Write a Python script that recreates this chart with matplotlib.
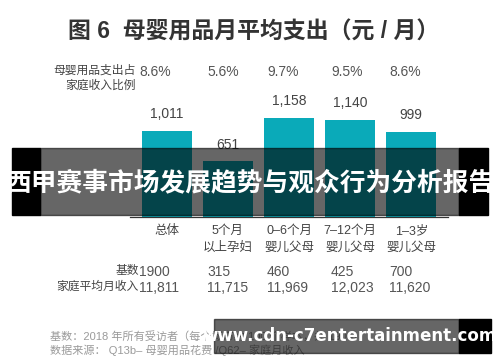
import matplotlib.pyplot as plt
from matplotlib.patches import Rectangle

plt.rcParams['font.family'] = ['Liberation Sans', 'Noto Sans CJK SC', 'DejaVu Sans']

# data
groups = ['总体', '5个月\n以上孕妇', '0–6个月\n婴儿父母', '7–12个月\n婴儿父母', '1–3岁\n婴儿父母']
spend = [1011, 651, 1158, 1140, 999]
share = ['8.6%', '5.6%', '9.7%', '9.5%', '8.6%']
base_n = ['1900', '315', '460', '425', '700']
income = ['11,811', '11,715', '11,969', '12,023', '11,620']

W, H = 500, 362
fig = plt.figure(figsize=(W / 100, H / 100), dpi=100)
fig.patch.set_facecolor('white')


def fx(x):
    return x / W


def fy(y):
    return 1 - y / H


# bar axes: x 130..448 px, baseline at y=217, 1300 units ~ 111 px
ax = fig.add_axes([fx(130), fy(217), (448 - 130) / W, 111 / H])
pos = range(len(spend))
bars = ax.bar(pos, spend, width=0.82, color='#0aaab9', zorder=2)
ax.set_xlim(-0.6, 4.6)
ax.set_ylim(0, 1300)
for s in ['top', 'right', 'left']:
    ax.spines[s].set_visible(False)
ax.spines['bottom'].set_color('#333333')
ax.spines['bottom'].set_linewidth(0.9)
ax.set_yticks([])
ax.set_xticks(list(pos))
ax.set_xticklabels(groups, fontsize=9, color='#444444', linespacing=1.45, va='top')
ax.tick_params(axis='x', length=0, pad=6)
ax.patch.set_alpha(0)

for b, v in zip(bars, spend):
    ax.annotate(f'{v:,}', (b.get_x() + b.get_width() / 2, v), xytext=(0, 12),
                textcoords='offset points', ha='center', va='center',
                fontsize=10, color='#444444')

# title
fig.text(fx(68), fy(32), '图 6  母婴用品月平均支出（元 / 月）', ha='left', va='center',
         fontsize=16.5, fontweight='bold', color='#333333')

# top row: share of household income
fig.text(fx(136), fy(71), '母婴用品支出占', ha='right', va='center', fontsize=8.5, color='#444444')
fig.text(fx(136), fy(86), '家庭收入比例', ha='right', va='center', fontsize=8.5, color='#444444')
col_x = [139, 207, 267, 331, 389]
for x, s in zip(col_x, share):
    fig.text(fx(x), fy(72), s, ha='left', va='center', fontsize=10, color='#555555')

# bottom table
fig.text(fx(139), fy(271), '基数', ha='right', va='center', fontsize=8.5, color='#444444')
fig.text(fx(139), fy(287), '家庭平均月收入', ha='right', va='center', fontsize=8.5, color='#444444')
for x, n, inc in zip(col_x, base_n, income):
    fig.text(fx(x), fy(272), n, ha='left', va='center', fontsize=10, color='#555555')
    fig.text(fx(x), fy(288), inc, ha='left', va='center', fontsize=10, color='#555555')

# footnotes
fig.text(fx(50), fy(336), '基数：2018 年所有受访者（每个城市约 100 个样本，共 1900）', ha='left', va='center',
         fontsize=8, color='#9a9a9a')
fig.text(fx(50), fy(350), '数据来源： Q13b– 母婴用品花费 /Q62– 家庭月收入', ha='left', va='center',
         fontsize=8, color='#9a9a9a')

# overlay banner
fig.patches.append(Rectangle((fx(12), fy(215)), fx(28), (215 - 148) / H,
                             transform=fig.transFigure, color='black', zorder=5))
fig.patches.append(Rectangle((fx(459), fy(215)), fx(29), (215 - 148) / H,
                             transform=fig.transFigure, color='black', zorder=5))
fig.patches.append(Rectangle((fx(40), fy(215)), fx(419), (215 - 148) / H,
                             transform=fig.transFigure, color='black', alpha=0.6, zorder=5))
fig.text(fx(250), fy(183), '西甲赛事市场发展趋势与观众行为分析报告', ha='center', va='center',
         fontsize=18.5, fontweight='bold', color='white', zorder=6)

# watermark
fig.patches.append(Rectangle((fx(214), fy(353)), fx(245), (353 - 319) / H,
                             transform=fig.transFigure, color='black', alpha=0.6, zorder=5))
fig.patches.append(Rectangle((fx(459), fy(353)), fx(32), (353 - 319) / H,
                             transform=fig.transFigure, color='black', zorder=5))
fig.text(fx(350), fy(336), 'www.cdn-c7entertainment.com', ha='center', va='center',
         fontsize=12, fontweight='bold', color='white', family='DejaVu Sans', zorder=6)

fig.savefig('out.png', dpi=100)
